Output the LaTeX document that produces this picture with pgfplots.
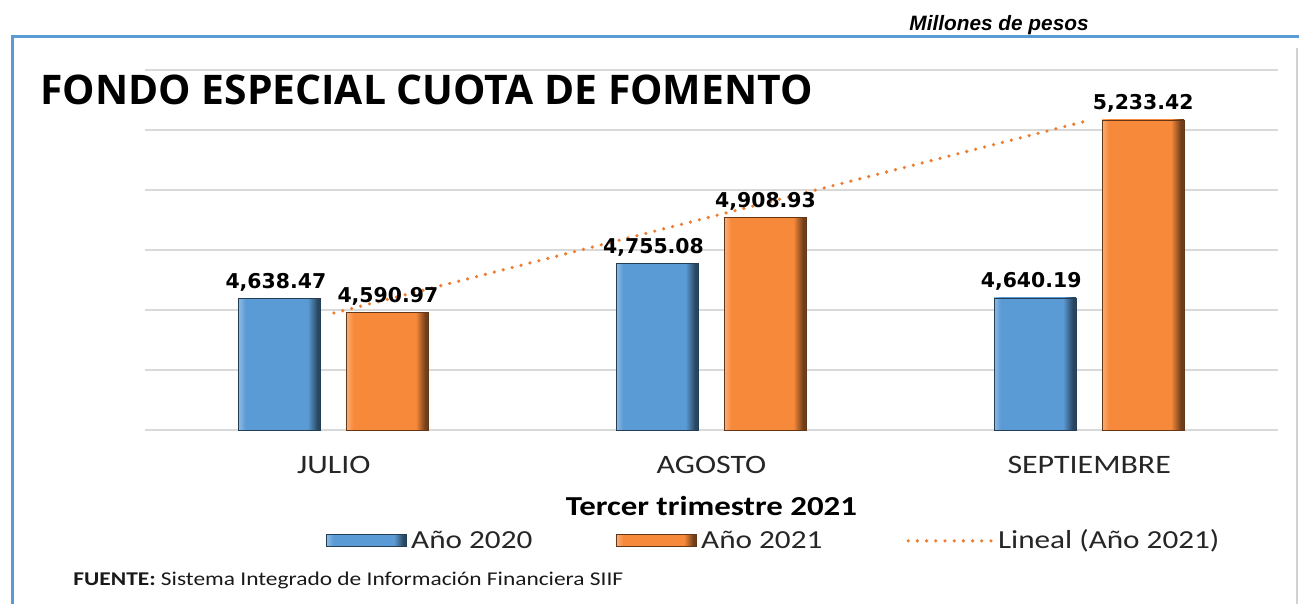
\documentclass[border=0pt]{standalone}
\usepackage{fontspec}
\setmainfont[FakeStretch=1.2]{Carlito}
\newfontfamily\titlefont{Open Sans}
\newfontfamily\labelfont{DejaVu Sans}
\newfontfamily\arialfont{Liberation Sans}
\usepackage{pgfplots}
\pgfplotsset{compat=1.18}

\definecolor{barblue}{HTML}{5B9BD5}
\definecolor{barorange}{HTML}{F7893A}
\definecolor{gridgray}{HTML}{D9D9D9}
\definecolor{frameblue}{HTML}{5B9BD5}
\definecolor{trendorange}{HTML}{ED7D31}

% flat face, light left bevel, dark right edge
\pgfdeclarehorizontalshading{bevelblue}{100bp}{color(0bp)=(barblue!70!white); color(25bp)=(barblue!70!white);
  color(29bp)=(barblue); color(67bp)=(barblue); color(73bp)=(barblue!45!black); color(100bp)=(barblue!45!black)}
\pgfdeclarehorizontalshading{bevelorange}{100bp}{color(0bp)=(barorange!70!white); color(25bp)=(barorange!70!white);
  color(29bp)=(barorange); color(67bp)=(barorange); color(73bp)=(barorange!45!black); color(100bp)=(barorange!45!black)}

\tikzset{
  bevel bar/.style={draw=bar#1!40!black, shade, shading=bevel#1},
}
\pgfplotsset{
  bevel legend/.style={legend image code/.code={\draw[bevel bar=#1] (-4pt,-3pt) rectangle (36pt,3pt);}},
  trend legend/.style={legend image code/.code={\draw[##1] (-4pt,0pt) -- (38pt,0pt);}},
  blue bar/.style={ybar, bar shift=-27pt, nodes near coords, bevel bar=blue, bevel legend=blue,
    every node near coord/.append style={xshift=-29pt}},
  orange bar/.style={ybar, bar shift=27pt, nodes near coords, bevel bar=orange, bevel legend=orange,
    every node near coord/.append style={xshift=27pt}},
}

\begin{document}
\begin{tikzpicture}
\useasboundingbox (0,0) rectangle (649.5pt,302pt);
% frame and loose texts, in picture pixels (y downwards)
\begin{scope}[x=0.5pt,y=-0.5pt,yshift=302pt]
  \draw[frameblue, line width=1.5pt] (12,604) -- (12,37) -- (1299,37);
  \draw[gray!35, line width=1pt] (1297,48) -- (1297,604);
  \node[font=\arialfont\bfseries\itshape\fontsize{10.4}{12}\selectfont] at (999,25) {Millones de pesos};
  \node[font=\titlefont\bfseries\fontsize{20.4}{23}\selectfont, anchor=west, inner sep=0] at (40,90)
    {FONDO ESPECIAL CUOTA DE FOMENTO};
  \node[font=\fontsize{9.75}{11}\selectfont, anchor=west, inner sep=0, text=black!90] at (73,580)
    {\textbf{FUENTE:} Sistema Integrado de Información Financiera SIIF};
\end{scope}

\begin{axis}[
  at={(72.5pt,87pt)}, anchor=south west,
  scale only axis, width=566.5pt, height=180pt,
  xmin=-0.5, xmax=2.5, ymin=4200, ymax=5400,
  ytick={4200,4400,...,5400}, yticklabels={,,,,,,},
  ymajorgrids, grid style={gridgray, line width=0.8pt},
  axis line style={draw=none},
  major tick length=0pt,
  xtick={0,1,2}, xticklabels={JULIO,AGOSTO,SEPTIEMBRE},
  xticklabel style={font=\fontsize{13.3}{15}\selectfont, text=black!85, yshift=-9.5pt},
  xlabel={\textbf{Tercer trimestre 2021}},
  xlabel style={font=\fontsize{13.7}{16}\selectfont, at={(axis description cs:0.5,-0.211)}, anchor=center},
  bar width=41pt,
  /pgf/number format/fixed, /pgf/number format/fixed zerofill,
  /pgf/number format/precision=2, /pgf/number format/1000 sep={,},
  /pgf/number format/assume math mode=true,
  every node near coord/.append style={font=\labelfont\bfseries\fontsize{10.2}{12}\selectfont, text=black},
  legend style={at={(0.556,-0.308)}, anchor=center, legend columns=3, draw=none, fill=none,
    font=\fontsize{13}{16}\selectfont, text=black!85,
    /tikz/every even column/.append style={column sep=40pt}},
  clip=false,
]
% Año 2020
\addplot[blue bar] coordinates {(0,4638.47)};
\addlegendentry{Año 2020}
\addplot[blue bar, forget plot] coordinates {(1,4755.08)};
\addplot[blue bar, forget plot] coordinates {(2,4640.19)};
% Año 2021
\addplot[orange bar] coordinates {(0,4590.97)};
\addlegendentry{Año 2021}
\addplot[orange bar, forget plot] coordinates {(1,4908.93)};
\addplot[orange bar, forget plot] coordinates {(2,5233.42)};
% linear trend of the 2021 series
\addplot[sharp plot, trendorange, line width=1.8pt, line cap=round, dash pattern=on 0pt off 4.6pt, trend legend]
  coordinates {(0,4589.88) (2,5232.33)};
\addlegendentry{Lineal (Año 2021)}
\end{axis}
\end{tikzpicture}
\end{document}
